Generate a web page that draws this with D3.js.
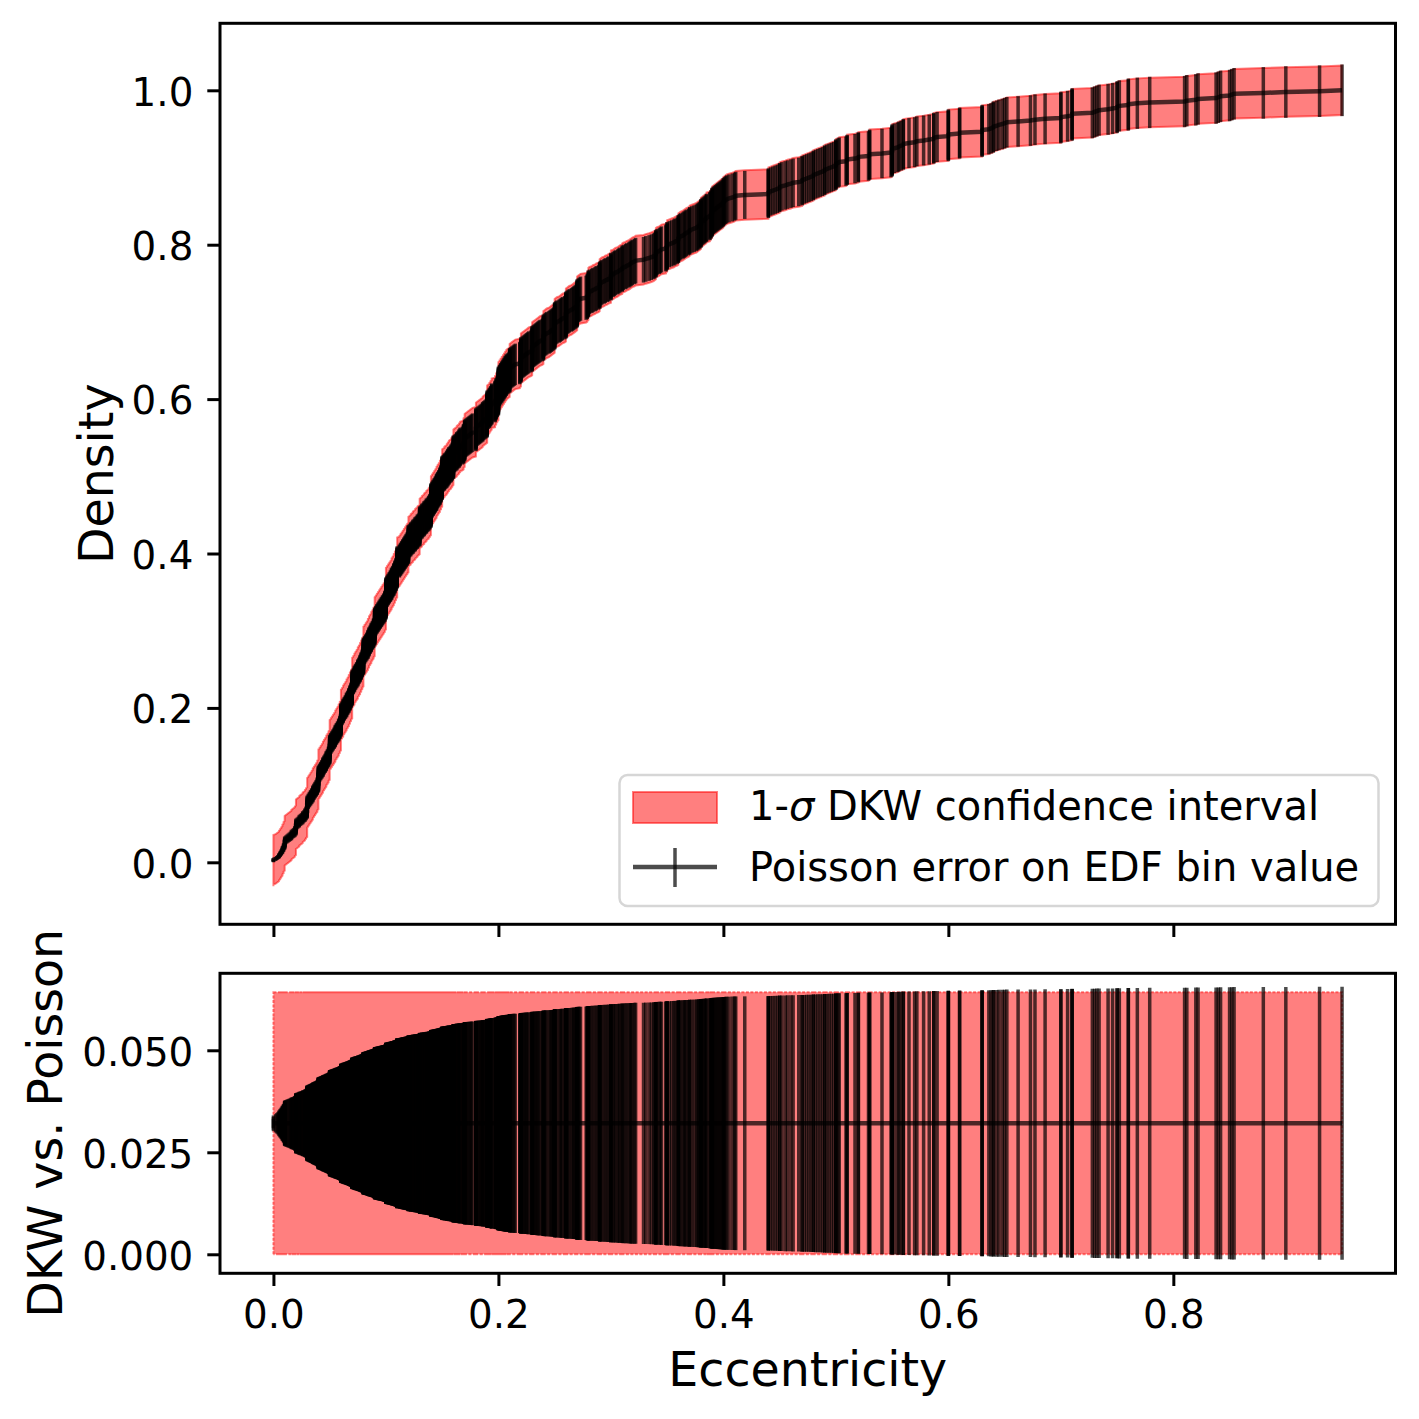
<!DOCTYPE html>
<html>
<head>
<meta charset="utf-8">
<script src="https://cdn.jsdelivr.net/npm/d3@7"></script>
<style>
  body { margin: 0; background: #fff; }
  svg { display: block; }
  text { font-family: "DejaVu Sans", sans-serif; }
</style>
</head>
<body>
<svg id="chart" width="1419" height="1419"></svg>
<script>
// sample eccentricities, in thousandths (sorted)
const eccInner = [0,0,0,2,3,4,5,5,6,6,7,7,8,8,8,9,9,9,
  10,10,10,10,10,10,10,11,12,13,14,15,16,16,17,18,19,19,
  20,20,20,20,20,20,20,20,21,22,23,23,24,25,26,26,27,28,28,29,29,
  30,30,30,30,30,30,30,30,30,30,30,30,31,31,32,32,33,33,34,34,35,35,35,36,36,37,37,38,38,39,39,39,
  40,40,40,40,40,40,40,40,40,40,40,40,40,41,41,42,42,43,43,44,44,44,45,45,46,46,47,47,47,48,48,49,49,49,
  50,50,50,50,50,50,50,50,50,50,50,50,50,51,51,52,52,53,53,54,54,55,55,55,56,56,57,57,58,58,58,59,59,59,
  60,60,60,60,60,60,60,60,60,60,60,60,60,60,61,61,62,62,62,63,63,64,64,65,65,65,66,66,67,67,67,68,68,68,69,69,69,
  70,70,70,70,70,70,70,70,70,70,70,70,70,70,71,71,72,72,72,73,73,74,74,75,75,75,76,76,77,77,77,78,78,78,79,79,79,
  80,80,80,80,80,80,80,80,80,80,80,80,80,81,81,82,82,83,83,84,84,84,85,85,85,86,86,87,87,87,88,88,89,89,89,
  90,90,90,90,90,90,90,90,90,90,90,90,91,91,92,92,93,93,94,94,95,95,96,96,97,97,98,98,99,99,99,
  100,100,100,100,100,100,100,100,100,100,100,100,100,100,100,101,101,102,102,103,103,104,104,105,105,105,106,106,107,107,107,108,108,108,109,109,109,
  110,110,110,110,110,110,110,110,110,110,110,110,110,112,112,113,113,114,114,115,115,116,116,117,117,118,118,119,119,
  120,120,120,120,120,120,120,120,121,122,122,123,124,124,125,126,126,127,128,128,129,
  130,130,130,130,130,130,130,130,131,132,132,133,134,134,135,136,136,137,138,138,139,139,
  140,140,140,140,140,140,140,140,140,140,140,140,141,141,142,142,143,143,144,144,145,145,145,146,146,147,147,148,148,148,149,149,149,
  150,150,150,150,150,150,150,150,150,150,151,152,152,153,154,154,155,155,156,156,157,158,158,159,159,
  160,160,160,160,160,160,160,160,161,162,163,163,164,165,165,166,166,168,169,169,169,
  170,170,170,170,170,171,172,173,174,175,176,177,
  180,180,180,180,180,180,181,182,183,184,185,186,186,187,188,189,
  190,190,190,190,190,190,190,190,190,190,191,192,192,193,193,194,194,194,197,197,197,198,198,198,199,199];
const eccMiddle = [200,200,200,200,200,200,200,200,200,200,200,201,201,202,202,203,203,204,204,205,205,206,206,207,207,208,209,
  210,210,210,210,210,211,212,213,214,215,219,219,
  220,220,220,220,220,221,222,223,224,225,226,227,229,
  230,230,230,230,230,231,232,233,234,235,236,237,239,
  240,240,240,240,240,241,242,243,245,246,247,248,249,
  250,250,250,250,250,250,251,252,254,255,256,257,259,
  260,260,260,260,260,261,262,263,265,266,267,268,269,
  270,270,270,270,270,270,271,272,273,278,279,279,
  280,280,280,280,281,283,284,286,287,289,
  290,290,290,290,291,292,294,295,297,298,
  300,300,300,300,302,303,304,306,307,308,
  310,310,311,313,314,316,317,318,319,321,322,329,331,334,
  336,338,339,340,340,340,341,343,344,345,349,349,350,350,350,352,354,
  356,357,359,360,360,360,361,362,364,365,366,367,369,370,370,372,374,
  376,377,378,379,380,380,380,381,382,383,384,385,385,388,388,389,389,390,390,390,391,392,393,394,395,396,397,398,399,400,400,401,402,
  403,405,408,410,411,419];
const eccOuter = [440,440,440,442,444,446,448,450,450,452,455,457,460,462,
  467,470,470,472,474,476,478,480,480,482,484,486,488,490,490,492,494,496,498,500,500,500,502,503,
  509,510,510,517,520,520,529,530,530,541,549,550,550,550,550,552,555,556,
  558,560,560,565,570,572,578,583,
  587,587,590,600,600,600,610,610,
  630,630,630,636,638,640,640,643,645,
  648,650,652,662,673,
  677,686,700,700,
  706,710,710,710,
  728,730,732,734,742,746,
  750,750,752,760,760,
  768,779,
  810,812,820,822,838,
  840,842,850,
  852,854,880,900,930,950];

const densityTicks = [0, 0.2, 0.4, 0.6, 0.8, 1.0];
const ratioTicks = [0, 0.025, 0.05];
const eccTicks = [0, 0.2, 0.4, 0.6, 0.8];
const dkwAlpha = 0.3173; // 1-sigma

const ecc = eccInner.concat(eccMiddle, eccOuter).map(v => v / 1000).sort(d3.ascending);
const N = ecc.length;
const eps = Math.sqrt(Math.log(2 / dkwAlpha) / (2 * N));
const pts = ecc.map((e, i) => ({ x: e, F: (i + 1) / N, err: Math.sqrt(i + 1) / N }));

const svg = d3.select('#chart');
const left = 220, right = 1395.5;
const top1 = 23.3, bot1 = 924.3, top2 = 973.3, bot2 = 1273.3;

const x = d3.scaleLinear().domain([-0.0475, 0.9975]).range([left, right]);
const yTop = d3.scaleLinear().domain([-0.0803, 1.0868]).range([bot1, top1]);
const yBot = d3.scaleLinear().domain([-0.00466, 0.06887]).range([bot2, top2]);

const FS_TICK = 38.8, FS_LEGEND = 40, FS_LABEL = 47.5;
const RED = 'red', INK = '#000';

// ---- top panel: EDF with DKW band
const band = d3.area().x(d => x(d.x)).y0(d => yTop(d.F - eps)).y1(d => yTop(d.F + eps));
svg.append('path').attr('d', band(pts))
  .attr('fill', RED).attr('fill-opacity', 0.5)
  .attr('stroke', RED).attr('stroke-opacity', 0.5).attr('stroke-width', 2);

svg.append('g').selectAll('line').data(pts).join('line')
  .attr('x1', d => x(d.x)).attr('x2', d => x(d.x))
  .attr('y1', d => yTop(d.F - d.err)).attr('y2', d => yTop(d.F + d.err))
  .attr('stroke', INK).attr('stroke-opacity', 0.7).attr('stroke-width', 3.5);

svg.append('path').attr('d', d3.line().x(d => x(d.x)).y(d => yTop(d.F))(pts))
  .attr('fill', 'none').attr('stroke', INK).attr('stroke-opacity', 0.7)
  .attr('stroke-width', 4.5).attr('stroke-linejoin', 'round');

// ---- bottom panel: DKW width vs Poisson error
const band2 = d3.area().x(d => x(d.x)).y0(() => yBot(0)).y1(() => yBot(2 * eps));
svg.append('path').attr('d', band2(pts))
  .attr('fill', RED).attr('fill-opacity', 0.5)
  .attr('stroke', RED).attr('stroke-opacity', 0.5).attr('stroke-width', 2)
  .attr('stroke-dasharray', '3 1.5');

svg.append('g').selectAll('line').data(pts).join('line')
  .attr('x1', d => x(d.x)).attr('x2', d => x(d.x))
  .attr('y1', d => yBot(eps - d.err)).attr('y2', d => yBot(eps + d.err))
  .attr('stroke', INK).attr('stroke-opacity', 0.7).attr('stroke-width', 3.5);

svg.append('path').attr('d', d3.line().x(d => x(d.x)).y(() => yBot(eps))(pts))
  .attr('fill', 'none').attr('stroke', INK).attr('stroke-opacity', 0.7).attr('stroke-width', 4.5);

// ---- axes
function styleAxis(g) {
  g.select('.domain').remove();
  g.selectAll('.tick line').attr('stroke', INK).attr('stroke-width', 3);
  g.selectAll('.tick text').attr('fill', INK)
    .attr('font-family', '"DejaVu Sans", sans-serif').attr('font-size', FS_TICK);
  g.attr('font-family', null).attr('font-size', null);
}

svg.append('g').attr('transform', `translate(${left},0)`)
  .call(d3.axisLeft(yTop).tickValues(densityTicks).tickFormat(d3.format('.1f')).tickSize(12.7).tickPadding(14))
  .call(styleAxis).selectAll('.tick text').attr('dy', '0.38em');

svg.append('g').attr('transform', `translate(0,${bot1})`)
  .call(d3.axisBottom(x).tickValues(eccTicks).tickFormat('').tickSize(12.7))
  .call(styleAxis);

svg.append('g').attr('transform', `translate(${left},0)`)
  .call(d3.axisLeft(yBot).tickValues(ratioTicks).tickFormat(d3.format('.3f')).tickSize(12.7).tickPadding(14))
  .call(styleAxis).selectAll('.tick text').attr('dy', '0.38em');

svg.append('g').attr('transform', `translate(0,${bot2})`)
  .call(d3.axisBottom(x).tickValues(eccTicks).tickFormat(d3.format('.1f')).tickSize(12.7).tickPadding(14))
  .call(styleAxis);

// frames
[[top1, bot1], [top2, bot2]].forEach(([t, b]) => {
  svg.append('rect').attr('x', left).attr('y', t).attr('width', right - left).attr('height', b - t)
    .attr('fill', 'none').attr('stroke', INK).attr('stroke-width', 3);
});

// axis labels
svg.append('text').attr('transform', `translate(113,${(top1 + bot1) / 2}) rotate(-90)`)
  .attr('text-anchor', 'middle').attr('font-size', FS_LABEL).text('Density');
svg.append('text').attr('transform', `translate(62,${(top2 + bot2) / 2}) rotate(-90)`)
  .attr('text-anchor', 'middle').attr('font-size', FS_LABEL).text('DKW vs. Poisson');
svg.append('text').attr('x', (left + right) / 2).attr('y', 1386)
  .attr('text-anchor', 'middle').attr('font-size', FS_LABEL).text('Eccentricity');

// legend
const lg = svg.append('g');
lg.append('rect').attr('x', 619.5).attr('y', 775).attr('width', 759).attr('height', 131).attr('rx', 8)
  .attr('fill', '#fff').attr('fill-opacity', 0.8).attr('stroke', '#d6d6d6').attr('stroke-width', 2.5);
lg.append('rect').attr('x', 633).attr('y', 792).attr('width', 84).attr('height', 31)
  .attr('fill', RED).attr('fill-opacity', 0.5).attr('stroke', RED).attr('stroke-opacity', 0.5).attr('stroke-width', 2);
const t1 = lg.append('text').attr('x', 749).attr('y', 820).attr('font-size', FS_LEGEND);
t1.append('tspan').text('1-');
t1.append('tspan').attr('font-style', 'italic').text('σ');
t1.append('tspan').text(' DKW confidence interval');
lg.append('line').attr('x1', 633).attr('x2', 717).attr('y1', 867).attr('y2', 867)
  .attr('stroke', INK).attr('stroke-opacity', 0.7).attr('stroke-width', 4.5);
lg.append('line').attr('x1', 675).attr('x2', 675).attr('y1', 848).attr('y2', 887)
  .attr('stroke', INK).attr('stroke-opacity', 0.7).attr('stroke-width', 3.5);
lg.append('text').attr('x', 749).attr('y', 881).attr('font-size', FS_LEGEND).text('Poisson error on EDF bin value');
</script>
</body>
</html>
